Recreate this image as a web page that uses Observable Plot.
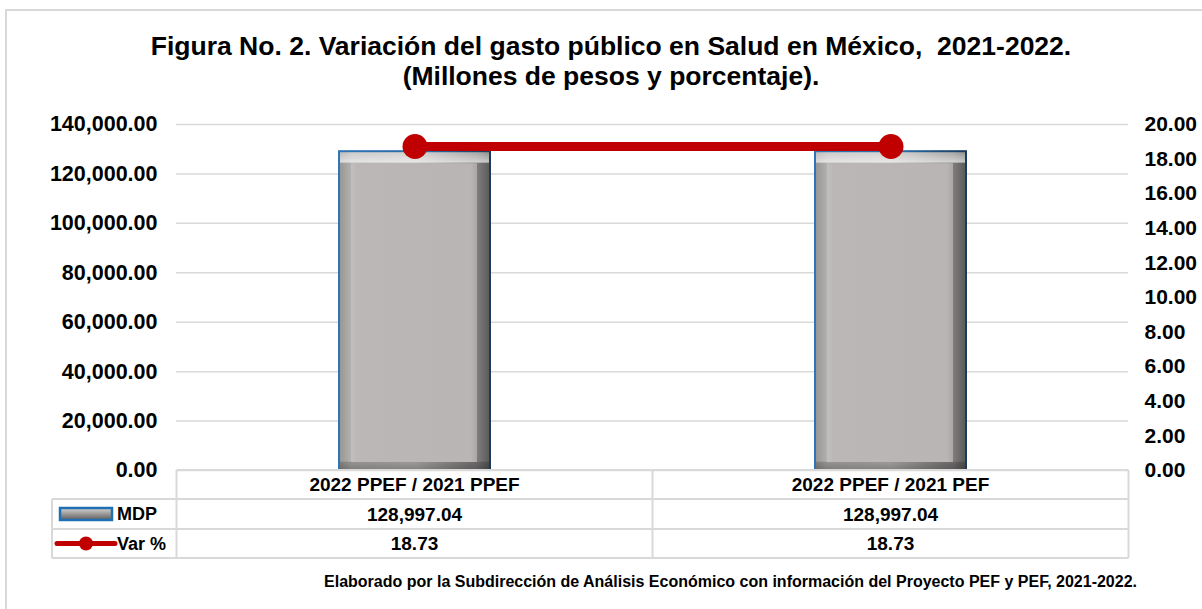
<!DOCTYPE html>
<html><head><meta charset="utf-8">
<script src="https://cdn.jsdelivr.net/npm/d3@7"></script>
<script src="https://cdn.jsdelivr.net/npm/@observablehq/plot@0.6"></script>
<style>
html,body{margin:0;padding:0;background:#fff;overflow:hidden;}
#wrap{position:relative;width:1202px;height:609px;font-family:"Liberation Sans",Arial,sans-serif;font-weight:bold;color:#000;overflow:hidden;}
#frame{position:absolute;left:5px;top:9px;width:1300px;height:700px;border:2px solid #d9d9d9;}
#title{position:absolute;left:0;top:31px;width:1222px;text-align:center;font-size:26.5px;line-height:30px;white-space:pre;}
#chart{position:absolute;left:0;top:100px;}
#caption{position:absolute;left:0;width:1137px;text-align:right;top:573px;font-size:16px;white-space:pre;}
</style></head>
<body>
<div id="wrap">
  <div id="frame"></div>
  <div id="title">Figura No. 2. Variación del gasto público en Salud en México,  2021-2022.
(Millones de pesos y porcentaje).</div>
  <div id="chart"></div>
  <div id="caption">Elaborado por la Subdirección de Análisis Económico con información del Proyecto PEF y PEF, 2021-2022.</div>
</div>
<script>
// ---- data ----
const categories = ["2022 PPEF / 2021 PPEF", "2022 PPEF / 2021 PEF"];
const mdp = [128997.04, 128997.04];
const varPct = [18.73, 18.73];
const seriesNames = ["MDP", "Var %"];
const leftTicks = [0, 20000, 40000, 60000, 80000, 100000, 120000, 140000];
const rightTicks = [0, 2, 4, 6, 8, 10, 12, 14, 16, 18, 20];
const leftMax = 140000;
const rightMax = 20;

const K = leftMax / rightMax;
const rows = categories.map((c, i) => ({cat: c, mdp: mdp[i], pct: varPct[i]}));
const fmtMoney = d3.format(",.2f");
const fmtPct = d3.format(".2f");
const FONT = "Liberation Sans, Arial, sans-serif";

const plot = Plot.plot({
  width: 1202,
  height: 460,
  marginTop: 24,
  marginBottom: 90,
  marginLeft: 176,
  marginRight: 74,
  style: {fontFamily: FONT, fontSize: "21px", fontWeight: "bold", background: "transparent", color: "#000", overflow: "visible"},
  x: {domain: categories, paddingInner: 0.683, paddingOuter: 0.3415, axis: null},
  y: {domain: [0, leftMax], axis: null},
  marks: [
    Plot.gridY(leftTicks, {stroke: "#d9d9d9", strokeOpacity: 1, strokeWidth: 1.5}),
    Plot.axisY(leftTicks, {anchor: "left", tickSize: 0, tickPadding: 19, tickFormat: fmtMoney, label: null, fontSize: 21.5, fontWeight: "bold"}),
    Plot.axisY(rightTicks.map(v => v * K), {anchor: "right", tickSize: 0, tickPadding: 16, tickFormat: d => fmtPct(d / K), label: null, fontSize: 21, fontWeight: "bold"}),
    // bevelled bars
    Plot.barY(rows, {x: "cat", y: "mdp", fill: "url(#bevelH)"}),
    Plot.barY(rows, {x: "cat", y: "mdp", fill: "url(#bevelV)"}),
    Plot.barY(rows, {x: "cat", y: "mdp", fill: "url(#faceG)", insetLeft: 12, insetRight: 13, insetTop: 12, insetBottom: 8}),
    Plot.barY(rows, {x: "cat", y: "mdp", fill: "none", stroke: "url(#edgeH)", strokeWidth: 2}),
    // percentage line
    Plot.line(rows, {x: "cat", y: d => d.pct * K, stroke: "#c00000", strokeWidth: 9}),
    Plot.dot(rows, {x: "cat", y: d => d.pct * K, r: 12.5, fill: "#c00000", stroke: "none"})
  ]
});

const svg = d3.select(plot);
svg.insert("defs", ":first-child").html(`
  <linearGradient id="bevelH" x1="0" y1="0" x2="1" y2="0">
    <stop offset="0" stop-color="#979594"/>
    <stop offset="0.08" stop-color="#b3b1b0"/>
    <stop offset="0.5" stop-color="#bdbab9"/>
    <stop offset="0.915" stop-color="#7f7d7c"/>
    <stop offset="1" stop-color="#595959"/>
  </linearGradient>
  <linearGradient id="bevelV" x1="0" y1="0" x2="0" y2="1">
    <stop offset="0" stop-color="#ffffff" stop-opacity="0.3"/>
    <stop offset="0.034" stop-color="#ffffff" stop-opacity="0.65"/>
    <stop offset="0.038" stop-color="#ffffff" stop-opacity="0"/>
    <stop offset="0.972" stop-color="#000000" stop-opacity="0"/>
    <stop offset="0.976" stop-color="#000000" stop-opacity="0.18"/>
    <stop offset="1" stop-color="#000000" stop-opacity="0.3"/>
  </linearGradient>
  <linearGradient id="faceG" x1="0" y1="0" x2="1" y2="0">
    <stop offset="0" stop-color="#c2bfbe"/>
    <stop offset="0.05" stop-color="#bbb7b6"/>
    <stop offset="0.95" stop-color="#b9b5b4"/>
    <stop offset="1" stop-color="#aaa7a6"/>
  </linearGradient>
  <linearGradient id="edgeH" x1="0" y1="0" x2="1" y2="0">
    <stop offset="0" stop-color="#2e75b6"/>
    <stop offset="0.6" stop-color="#2a6aa5"/>
    <stop offset="1" stop-color="#1b3a5c"/>
  </linearGradient>
  <linearGradient id="iconG" x1="0" y1="0" x2="0" y2="1">
    <stop offset="0" stop-color="#d8d6d5"/>
    <stop offset="0.5" stop-color="#9a9897"/>
    <stop offset="1" stop-color="#5e5e5e"/>
  </linearGradient>
`);

// ---- data table under the chart, aligned on the band scale ----
const xs = plot.scale("x");
const ys = plot.scale("y");
const step = xs.step;
const bw = xs.bandwidth;
const centers = categories.map(c => xs.apply(c) + bw / 2);
const colEdges = [centers[0] - step / 2, ...centers.map(c => c + step / 2)];
const y0 = ys.apply(0);
const rowEdges = [y0, y0 + 29, y0 + 59, y0 + 88];
const legendLeft = 52;
const g = svg.append("g").attr("font-family", FONT).attr("font-weight", "bold");
const lineColor = "#d9d9d9";

// horizontal lines
g.append("line").attr("x1", colEdges[0]).attr("x2", colEdges[2]).attr("y1", rowEdges[0]).attr("y2", rowEdges[0]).attr("stroke", lineColor).attr("stroke-width", 2);
[1, 2, 3].forEach(i => {
  g.append("line").attr("x1", legendLeft).attr("x2", colEdges[2]).attr("y1", rowEdges[i]).attr("y2", rowEdges[i]).attr("stroke", lineColor).attr("stroke-width", 2);
});
// vertical lines
colEdges.forEach(x => {
  g.append("line").attr("x1", x).attr("x2", x).attr("y1", rowEdges[0]).attr("y2", rowEdges[3]).attr("stroke", lineColor).attr("stroke-width", 2);
});
g.append("line").attr("x1", legendLeft).attr("x2", legendLeft).attr("y1", rowEdges[1]).attr("y2", rowEdges[3]).attr("stroke", lineColor).attr("stroke-width", 2);

const rowMid = i => (rowEdges[i] + rowEdges[i + 1]) / 2;
const tsize = 19;
categories.forEach((c, j) => {
  g.append("text").attr("x", centers[j]).attr("y", rowMid(0)).attr("dy", "0.36em").attr("text-anchor", "middle").attr("font-size", tsize).text(c);
  g.append("text").attr("x", centers[j]).attr("y", rowMid(1)).attr("dy", "0.36em").attr("text-anchor", "middle").attr("font-size", tsize).text(fmtMoney(mdp[j]));
  g.append("text").attr("x", centers[j]).attr("y", rowMid(2)).attr("dy", "0.36em").attr("text-anchor", "middle").attr("font-size", tsize).text(fmtPct(varPct[j]));
});
// legend keys
const m1 = rowMid(1), m2 = rowMid(2);
g.append("rect").attr("x", 60).attr("y", m1 - 6).attr("width", 52).attr("height", 12).attr("fill", "url(#iconG)").attr("stroke", "#1f6fb5").attr("stroke-width", 2.5);
g.append("line").attr("x1", 57).attr("x2", 115).attr("y1", m2).attr("y2", m2).attr("stroke", "#c00000").attr("stroke-width", 5).attr("stroke-linecap", "round");
g.append("circle").attr("cx", 86).attr("cy", m2).attr("r", 7).attr("fill", "#c00000");
g.append("text").attr("x", 117).attr("y", m1).attr("dy", "0.36em").attr("text-anchor", "start").attr("font-size", 18).text(seriesNames[0]);
g.append("text").attr("x", 117).attr("y", m2).attr("dy", "0.36em").attr("text-anchor", "start").attr("font-size", 18).text(seriesNames[1]);

document.getElementById("chart").appendChild(plot);
</script>
</body></html>
